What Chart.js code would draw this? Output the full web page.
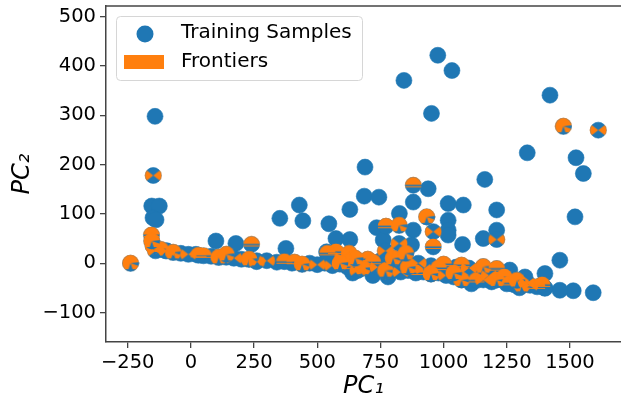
<!DOCTYPE html>
<html>
<head>
<meta charset="utf-8">
<script src="https://cdn.jsdelivr.net/npm/chart.js@4/dist/chart.umd.min.js"></script>
<style>
  html, body { margin: 0; padding: 0; background: #fff; }
  #wrap { width: 621px; height: 403px; }
</style>
</head>
<body>
<div id="wrap"><canvas id="c" width="621" height="403"></canvas></div>
<script>
// samples that are only drawn blue (PC1, PC2)
const sampleX = [-142, -155, -125, -150, -138, 99, 178, 352, 376, 429, 443, 546, 629, 689, 686, 744,
  735, 761, 574, 629, 537, 825, 880, 880, 873, 939, 952, 843, 977, 1033, 1018, 1078, 1018, 1018, 1018,
  1075, 1157, 1163, 1210, 1210, 1421, 1331, 1524, 1553, 1520, 1460, 1592, 1513, 1460, 1401, 1401,
  1322, 1262, -100, -40, 20, 80, 140, 200, 260, 340, 400, 470, 530, 590, 650, 710, 800, 860, 920,
  980, 1040, 1190, 1250, 1280, 1400, 750, 850, 950, 1050, 1150, 1200, 1250, 640, 720, 780, 1110, 1300];
const sampleY = [298, 116, 116, 92, 88, 45, 40, 91, 30, 118, 86, 80, 109, 195, 136, 134,
  72, 47, 50, 48, 23, 101, 124, 67, 37, 151, 304, 371, 422, 391, 121, 118, 87, 67, 57,
  38, 50, 170, 108, 67, 341, 224, 214, 182, 94, 6, -60, -56, -55, -51, -21,
  -28, -14, 25, 20, 18, 14, 12, 8, 5, 2, 0, 0, 0, -2, -5, -12, -12, -15, -18,
  -20, -28, -38, -42, -44, -50, 5, 5, -5, -8, -12, -15, -20, -20, -25, -28, -42, -50];

// frontier samples (drawn blue with orange overlay)
const frontierX = [-239, -149, -156, -150, -140, -120, -70, -10, 50, 110, 170, 240, 230, 300, 370, 440,
  500, 574, 626, 560, 620, 680, 740, 772, 824, 824, 880, 933, 959, 959, 770, 830, 890, 950, 1010,
  1071, 1071, 1100, 1130, 1157, 1157, 1210, 1210, 1210, 1262, 1310, 1342, 1370, 1474, 1612,
  700, 800, 900, 1000, 650, 600, 540, -155, -95, 30, 140, 260, 410, 590, 660, 720, 860, 920,
  980, 1040, 1180, 1240, 1290, 1330, 1390, 850, 770];
const frontierY = [0, 178, 57, 35, 25, 28, 22, 18, 15, 12, 10, 38, 8, 5, 3, -2,
  -3, 23, 20, -5, -8, -10, -8, 75, 77, 40, 158, 94, 64, 33, -15, -18, -20, -22, -25,
  -4, -34, -10, -35, -7, -34, -11, -34, 48, -41, -45, -45, -48, 278, 270,
  8, 10, 0, -2, 10, 12, 20, 45, 25, 16, 18, 3, 2, 0, -15, 2, -8, -12,
  -10, -20, -25, -28, -35, -40, -44, 20, 25];

const xTicks = [-250, 0, 250, 500, 750, 1000, 1250, 1500];
const yTicks = [-100, 0, 100, 200, 300, 400, 500];

const BLUE = "#1f77b4";
const ORANGE = "#ff7f0e";

// orange overlay marks drawn on top of the blue circles
function makeMarker(kind) {
  const s = 18, c = s / 2;
  const cv = document.createElement("canvas");
  cv.width = s; cv.height = s;
  const g = cv.getContext("2d");
  g.beginPath();
  g.arc(c, c, 8.3, 0, Math.PI * 2);
  g.clip();
  g.fillStyle = ORANGE;
  if (kind === "bowtie") {
    g.beginPath();
    g.moveTo(0, 2); g.lineTo(c, c); g.lineTo(0, s - 2); g.closePath();
    g.moveTo(s, 2); g.lineTo(c, c); g.lineTo(s, s - 2); g.closePath();
    g.fill();
  } else if (kind === "cap") {
    g.fillRect(0, 0, s, c - 0.5);
    g.fillRect(0, c + 1, s, 1);
  } else {
    // mostly orange with thin blue wedges
    g.fillRect(0, 0, s, s);
    g.fillStyle = BLUE;
    g.beginPath();
    g.moveTo(c - 3, s); g.lineTo(c, c); g.lineTo(c + 3, s); g.closePath();
    g.moveTo(s, c - 1); g.lineTo(c, c); g.lineTo(s, c + 3); g.closePath();
    g.fill();
    g.fillRect(0, s - 3, s, 3);
  }
  return cv;
}
const markers = [makeMarker("mixed"), makeMarker("bowtie"), makeMarker("cap")];

const toPts = (xs, ys) => xs.map((x, i) => ({ x: x, y: ys[i] }));

const framePlugin = {
  id: "frame",
  afterDraw(chart) {
    const { ctx, chartArea } = chart;
    ctx.save();
    ctx.strokeStyle = "#444";
    ctx.lineWidth = 1.5;
    ctx.beginPath();
    ctx.moveTo(chartArea.left, chartArea.top);
    ctx.lineTo(chartArea.right, chartArea.top);
    ctx.stroke();

    // legend box
    const bx = 116.5, by = 16.5, bw = 246, bh = 64, r = 4;
    ctx.beginPath();
    ctx.moveTo(bx + r, by);
    ctx.arcTo(bx + bw, by, bx + bw, by + bh, r);
    ctx.arcTo(bx + bw, by + bh, bx, by + bh, r);
    ctx.arcTo(bx, by + bh, bx, by, r);
    ctx.arcTo(bx, by, bx + bw, by, r);
    ctx.closePath();
    ctx.fillStyle = "rgba(255,255,255,0.8)";
    ctx.fill();
    ctx.strokeStyle = "#d6d6d6";
    ctx.lineWidth = 1;
    ctx.stroke();

    ctx.fillStyle = BLUE;
    ctx.beginPath();
    ctx.arc(145, 34, 8.5, 0, Math.PI * 2);
    ctx.fill();
    ctx.fillStyle = ORANGE;
    ctx.fillRect(124, 55, 40, 14);

    ctx.fillStyle = "#000";
    ctx.font = "20px 'DejaVu Sans'";
    ctx.textBaseline = "middle";
    ctx.fillText("Training Samples", 181, 33);
    ctx.fillText("Frontiers", 181, 62);
    ctx.restore();
  }
};

const tickFmt = (v) => String(v).replace("-", "\u2212");

new Chart(document.getElementById("c"), {
  type: "scatter",
  data: {
    datasets: [
      {
        label: "Frontiers",
        data: toPts(frontierX, frontierY),
        pointStyle: (ctx) => markers[ctx.dataIndex % 3],
        order: 0
      },
      {
        label: "Training Samples",
        data: toPts(sampleX.concat(frontierX), sampleY.concat(frontierY)),
        backgroundColor: BLUE,
        borderColor: BLUE,
        pointRadius: 8,
        borderWidth: 0.6,
        order: 1
      }
    ]
  },
  options: {
    responsive: false,
    animation: false,
    events: [],
    layout: { autoPadding: false, padding: { top: 6, right: 0, left: 0, bottom: 0 } },
    plugins: { legend: { display: false }, tooltip: { enabled: false } },
    scales: {
      x: {
        type: "linear",
        min: -336,
        max: 1702,
        afterFit: (s) => { s.height = 61; s.paddingLeft = 0; s.paddingRight = 0; },
        afterBuildTicks: (s) => { s.ticks = xTicks.map((v) => ({ value: v })); },
        border: { display: true, color: "#444", width: 1.5 },
        grid: { display: true, drawOnChartArea: false, tickLength: 6, color: "#444", lineWidth: 1.3 },
        ticks: {
          color: "#000",
          font: { family: "DejaVu Sans", size: 19.5 },
          padding: 3,
          maxRotation: 0,
          callback: tickFmt
        },
        title: {
          display: true,
          text: "PC\u2081",
          color: "#000",
          font: { family: "DejaVu Sans", size: 24, style: "italic" },
          padding: { top: 0, bottom: 2 }
        }
      },
      y: {
        type: "linear",
        min: -160,
        max: 522,
        afterFit: (s) => { s.width = 106; s.paddingTop = 0; s.paddingBottom = 0; },
        afterBuildTicks: (s) => { s.ticks = yTicks.map((v) => ({ value: v })); },
        border: { display: true, color: "#444", width: 1.5 },
        grid: { display: true, drawOnChartArea: false, tickLength: 6, color: "#444", lineWidth: 1.3 },
        ticks: {
          color: "#000",
          font: { family: "DejaVu Sans", size: 19.5 },
          padding: 4,
          callback: tickFmt
        },
        title: {
          display: true,
          text: "PC\u2082",
          color: "#000",
          font: { family: "DejaVu Sans", size: 24, style: "italic" },
          padding: { top: 8, bottom: 0 }
        }
      }
    }
  },
  plugins: [framePlugin]
});
</script>
</body>
</html>
